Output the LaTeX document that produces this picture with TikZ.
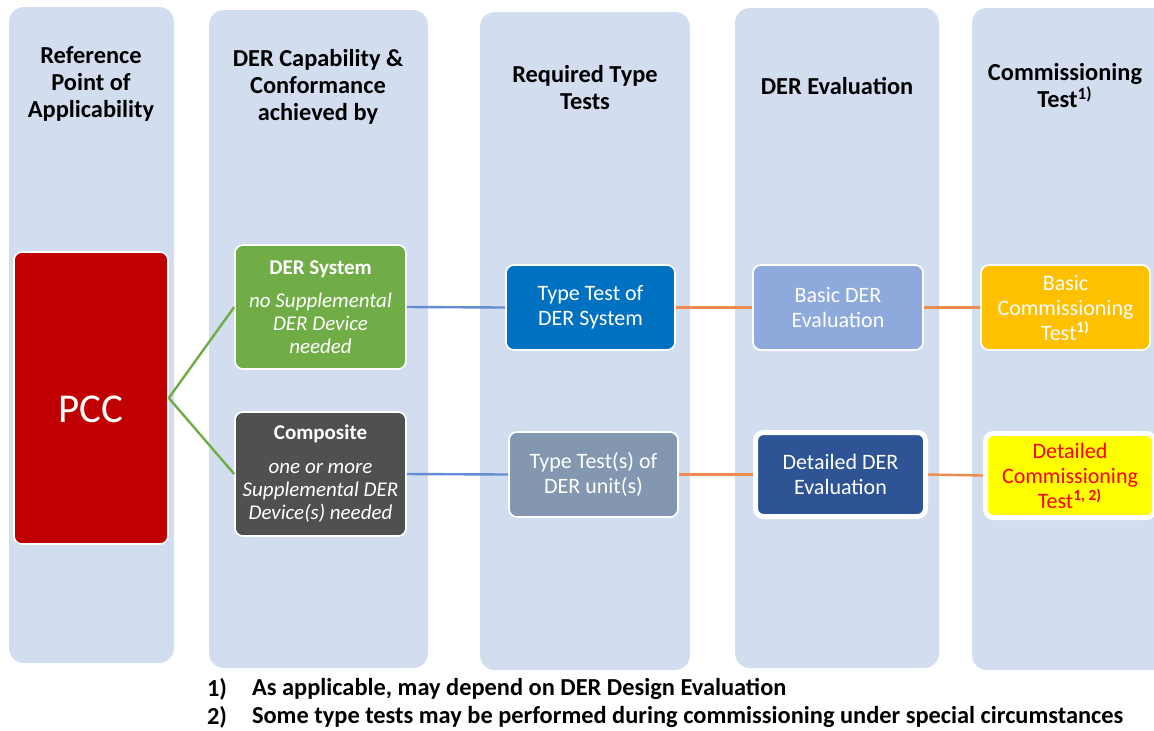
\documentclass[tikz,border=0pt]{standalone}
\usepackage{fontspec}
\setmainfont{Carlito}
\usepackage{xcolor}

\definecolor{panelblue}{RGB}{210,222,239}
\definecolor{pccred}{RGB}{192,0,0}
\definecolor{dergreen}{RGB}{112,173,71}
\definecolor{compgray}{RGB}{80,80,80}
\definecolor{typeblue}{RGB}{0,112,192}
\definecolor{typegray}{RGB}{132,151,176}
\definecolor{evallight}{RGB}{142,169,219}
\definecolor{evaldark}{RGB}{47,84,150}
\definecolor{commorange}{RGB}{255,192,0}
\definecolor{commyellow}{RGB}{255,255,0}
\definecolor{linkgreen}{RGB}{112,173,71}
\definecolor{linkblue}{RGB}{100,140,210}
\definecolor{linkorange}{RGB}{237,140,80}

\tikzset{
	panel/.style={fill=panelblue, rounded corners=7.5pt},
	header/.style={font=\bfseries\fontsize{12.2}{13.5}\selectfont, align=center},
	box/.style={draw=white, line width=0.8pt, rounded corners=4pt, text=white, align=center,
		minimum width=84.5pt, minimum height=42.5pt, inner sep=0pt, font=\fontsize{11}{12.5}\selectfont},
	thickbox/.style={box, line width=2.5pt, minimum width=85pt, minimum height=42pt},
	sidebox/.style={box, minimum width=85.5pt, minimum height=62pt, font=\fontsize{10.5}{11.5}\selectfont},
	note/.style={anchor=west, font=\bfseries\fontsize{12.2}{14}\selectfont},
	link/.style={line width=1.2pt},
}

\begin{document}
\begin{tikzpicture}[x=0.5pt, y=-0.5pt]
	\useasboundingbox (0,0) rectangle (1154,730);
	\fill[panel] (9,7) rectangle (174,663);
	\fill[panel] (209,10) rectangle (428,668);
	\fill[panel] (480,12) rectangle (690,670);
	\fill[panel] (735,8) rectangle (939,668);
	\fill[panel] (972,8) rectangle (1175,670);

	\node[header] (hdref) at (91,84) {Reference\\Point of\\Applicability};
	\node[header] (hdcap) at (318,87) {DER Capability \&\\Conformance\\achieved by};
	\node[header] (hdtype) at (585,88) {Required Type\\Tests};
	\node[header] (hdeval) at (837,86) {DER Evaluation};
	\node[header] (hdcomm) at (1065,86) {Commissioning\\Test\textsuperscript{1)}};

	\node[box, fill=pccred, minimum width=77pt, minimum height=146pt, text height=24pt, text depth=0pt, font=\fontsize{20.5}{24}\selectfont] (pcc) at (91,398) {PCC};
	\node[sidebox, fill=dergreen] (dersys) at (320.5,307) {\textbf{DER System}\\[5pt]\textit{no Supplemental}\\\textit{DER Device}\\\textit{needed}};
	\node[sidebox, fill=compgray] (comp) at (320.5,474) {\textbf{Composite}\\[5.5pt]\textit{one or more}\\\textit{Supplemental DER}\\\textit{Device(s) needed}};

	\node[box, fill=typeblue] (typesys) at (590.5,307.5) {Type Test of\\DER System};
	\node[box, fill=typegray] (typeunit) at (593.5,474.5) {Type Test(s) of\\DER unit(s)};
	\node[box, fill=evallight, minimum width=85pt] (basiceval) at (838,307.5) {Basic DER\\Evaluation};
	\node[thickbox, fill=evaldark] (deteval) at (840.5,474.5) {Detailed DER\\Evaluation};
	\node[box, fill=commorange] (basiccomm) at (1065.5,307.5) {Basic\\Commissioning\\Test\textsuperscript{\bfseries 1)}};
	\node[thickbox, fill=commyellow, text=red, minimum width=84.5pt] (detcomm) at (1070,475.5) {Detailed\\Commissioning\\Test\textsuperscript{\bfseries 1, 2)}};

	\draw[link, linkgreen] (pcc.east) -- (dersys.west);
	\draw[link, linkgreen] (pcc.east) -- (comp.west);
	\draw[link, linkblue] (dersys.east) -- (typesys.west);
	\draw[link, linkblue] (comp.east) -- (typeunit.west);
	\draw[link, linkorange] (typesys.east) -- (basiceval.west);
	\draw[link, linkorange] (basiceval.east) -- (basiccomm.west);
	\draw[link, linkorange] (typeunit.east) -- (deteval.west);
	\draw[link, linkorange] (deteval.east) -- (detcomm.west);

	\node[note] (numone) at (200,689) {1)};
	\node[note] (noteone) at (245,689) {As applicable, may depend on DER Design Evaluation};
	\node[note] (numtwo) at (200,717) {2)};
	\node[note] (notetwo) at (245,717) {Some type tests may be performed during commissioning under special circumstances};
\end{tikzpicture}
\end{document}
